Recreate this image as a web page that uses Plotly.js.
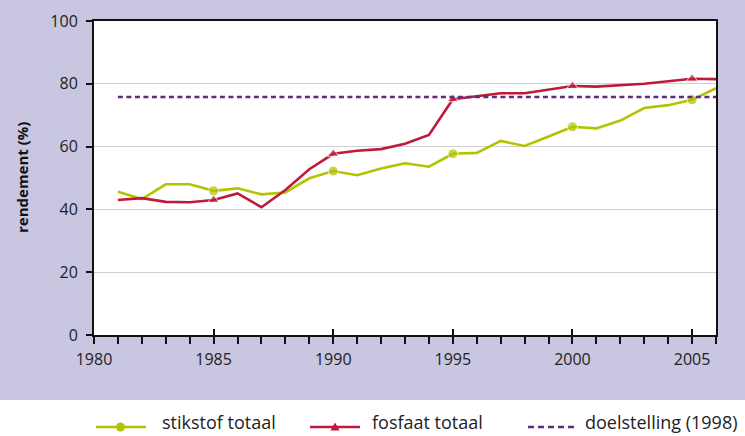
<!DOCTYPE html>
<html>
<head>
<meta charset="utf-8">
<script src="https://cdn.plot.ly/plotly-3.0.1.min.js"></script>
<style>html,body{margin:0;padding:0;background:#fff}#chart{width:745px;height:436px}</style>
</head>
<body>
<div id="chart"></div>
<script>
// ---- data ----
const years = [1981,1982,1983,1984,1985,1986,1987,1988,1989,1990,1991,1992,1993,1994,1995,1996,1997,1998,1999,2000,2001,2002,2003,2004,2005,2006];
const stikstof = [45.6,43.3,48.0,48.0,45.9,46.7,44.8,45.4,49.9,52.2,50.9,53.0,54.7,53.6,57.7,58.0,61.8,60.2,63.2,66.3,65.8,68.3,72.3,73.2,74.9,78.6];
const fosfaat = [43.0,43.6,42.4,42.3,43.0,45.1,40.7,46.2,52.8,57.7,58.7,59.2,60.9,63.7,75.1,76.0,77.0,77.0,78.1,79.3,79.1,79.6,80.0,80.8,81.6,81.5];
const doelYears = [1981, 2006];
const doelValue = [75.8, 75.8];
const seriesNames = ['stikstof totaal', 'fosfaat totaal', 'doelstelling (1998)'];
const xTickVals = [1980,1985,1990,1995,2000,2005];
const yTickVals = [0,20,40,60,80,100];

// ---- styles ----
const GREEN = '#b3c300', RED = '#be1a3c', PURPLE = '#5e2c7c', LAV = '#c8c6e1';
const FONT = 'Open Sans, Lato, DejaVu Sans, sans-serif';
const markerSizes = (sz) => years.map(y => (y % 5 === 0 ? sz : 0));

// plot area geometry (px) for paper-coordinate conversion of legend/background
const L = 94, R = 716, T = 21, B = 335;
const px = (x) => (x - L) / (R - L);
const py = (y) => (B - y) / (B - T);

const traces = [
  {x: years, y: stikstof, mode: 'lines+markers', name: seriesNames[0],
   line: {color: GREEN, width: 2.6}, marker: {color: GREEN, size: markerSizes(10), symbol: 'circle'}},
  {x: years, y: fosfaat, mode: 'lines+markers', name: seriesNames[1],
   line: {color: RED, width: 2.6}, marker: {color: RED, size: markerSizes(10), symbol: 'triangle-up'}},
  {x: doelYears, y: doelValue, mode: 'lines', name: seriesNames[2],
   line: {color: PURPLE, width: 2.6, dash: '5px,3.5px'}},
  // invisible helper for the inward major ticks
  {x: [1980], y: [0], xaxis: 'x2', mode: 'markers', marker: {size: 0, opacity: 0}, hoverinfo: 'skip', showlegend: false}
];

const legY = 427;
const shapes = [
  {type: 'rect', xref: 'paper', yref: 'paper', x0: px(0), x1: px(745), y0: py(400), y1: py(437),
   fillcolor: '#ffffff', line: {width: 0}, layer: 'below'},
  {type: 'line', xref: 'paper', yref: 'paper', x0: px(96), x1: px(146), y0: py(legY), y1: py(legY), line: {color: GREEN, width: 2.6}},
  {type: 'circle', xref: 'paper', yref: 'paper', x0: px(116), x1: px(125), y0: py(legY - 4.5), y1: py(legY + 4.5), fillcolor: GREEN, line: {width: 0}},
  {type: 'line', xref: 'paper', yref: 'paper', x0: px(310), x1: px(360), y0: py(legY), y1: py(legY), line: {color: RED, width: 2.6}},
  {type: 'path', xref: 'paper', yref: 'paper',
   path: `M ${px(330.5)} ${py(legY + 3.5)} L ${px(339.5)} ${py(legY + 3.5)} L ${px(335)} ${py(legY - 4.5)} Z`, fillcolor: RED, line: {width: 0}},
  {type: 'line', xref: 'paper', yref: 'paper', x0: px(528), x1: px(578), y0: py(legY), y1: py(legY), line: {color: PURPLE, width: 2.6, dash: '6px,4px'}}
];

const legFont = {family: FONT, size: 18, color: '#222'};
const annotations = [
  {text: 'rendement (%)', xref: 'paper', yref: 'paper', x: px(22), y: 0.5, textangle: -90, showarrow: false,
   xanchor: 'center', yanchor: 'middle', font: {family: FONT, size: 15, color: '#111', weight: 'bold'}},
  {text: seriesNames[0], xref: 'paper', yref: 'paper', x: px(160), y: py(436), xanchor: 'left', yanchor: 'bottom', showarrow: false, font: legFont},
  {text: seriesNames[1], xref: 'paper', yref: 'paper', x: px(370), y: py(436), xanchor: 'left', yanchor: 'bottom', showarrow: false, font: legFont},
  {text: seriesNames[2], xref: 'paper', yref: 'paper', x: px(583), y: py(436), xanchor: 'left', yanchor: 'bottom', showarrow: false, font: legFont}
];

const layout = {
  width: 745, height: 436,
  margin: {l: L, r: 745 - R, t: T, b: 436 - B, pad: 0},
  paper_bgcolor: LAV, plot_bgcolor: '#ffffff',
  showlegend: false,
  font: {family: FONT, size: 16, color: '#222'},
  xaxis: {range: [1980, 2006], tickvals: xTickVals, ticktext: xTickVals.map(String),
          ticks: 'outside', ticklen: 7, tickwidth: 2, tickcolor: '#111', ticklabelstandoff: 2,
          minor: {dtick: 1, tick0: 1980, ticks: 'outside', ticklen: 7, tickwidth: 2, tickcolor: '#111', showgrid: false},
          showline: true, linecolor: '#111', linewidth: 2, mirror: true, showgrid: false, zeroline: false,
          tickfont: {family: FONT, size: 16, color: '#222'}, fixedrange: true},
  xaxis2: {overlaying: 'x', matches: 'x', range: [1980, 2006], tickvals: xTickVals, side: 'bottom',
           ticks: 'inside', ticklen: 6, tickwidth: 2, tickcolor: '#111', showticklabels: false,
           showline: false, showgrid: false, zeroline: false},
  yaxis: {range: [0, 100], tickvals: yTickVals, ticks: 'outside', ticklen: 6, tickwidth: 2, tickcolor: '#111',
          ticklabelstandoff: 5,
          showline: true, linecolor: '#111', linewidth: 2, mirror: true,
          showgrid: true, gridcolor: '#cfcfcf', gridwidth: 1.2, zeroline: false,
          tickfont: {family: FONT, size: 16, color: '#222'}, fixedrange: true},
  shapes: shapes,
  annotations: annotations
};

Plotly.newPlot('chart', traces, layout, {displayModeBar: false, staticPlot: true});
</script>
</body>
</html>
